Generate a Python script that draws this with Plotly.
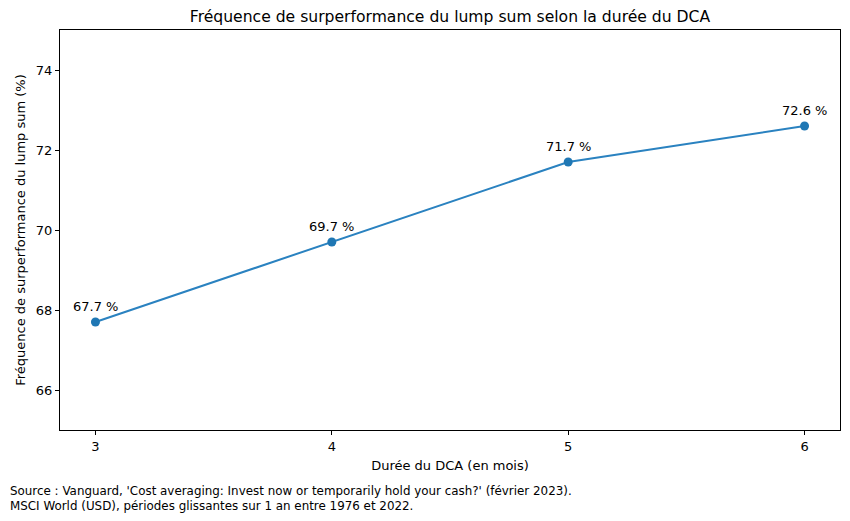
import plotly.graph_objects as go

durations = [3, 4, 5, 6]
frequencies = [67.7, 69.7, 71.7, 72.6]
labels = [f"{v} %" for v in frequencies]

title = "Fréquence de surperformance du lump sum selon la durée du DCA"
xlabel = "Durée du DCA (en mois)"
ylabel = "Fréquence de surperformance du lump sum (%)"
source = ("Source : Vanguard, 'Cost averaging: Invest now or temporarily hold your cash?' (février 2023).<br>"
          "MSCI World (USD), périodes glissantes sur 1 an entre 1976 et 2022.")

font = "DejaVu Sans"
blue = "#1f77b4"
line_blue = "#2a82c0"

fig = go.Figure()
fig.add_trace(go.Scatter(
    x=durations, y=frequencies, mode="lines+markers",
    line=dict(color=line_blue, width=2),
    marker=dict(color=blue, size=9),
    showlegend=False, hoverinfo="skip",
))
for xv, yv, lab in zip(durations, frequencies, labels):
    fig.add_annotation(x=xv, y=yv, text=lab, showarrow=False, yshift=16,
                       font=dict(family=font, size=13, color="black"))

fig.add_annotation(xref="paper", yref="paper", x=-52/780, y=-0.13,
                   xanchor="left", yanchor="top", align="left", showarrow=False,
                   text=source, font=dict(family=font, size=11.9, color="black"))

axis_common = dict(showline=True, linecolor="black", linewidth=1, mirror=True,
                   ticks="outside", ticklen=4, tickcolor="black", showgrid=False,
                   zeroline=False, tickfont=dict(family=font, size=13, color="black"))

fig.update_layout(
    width=850, height=521,
    margin=dict(l=60, r=10, t=30, b=91),
    paper_bgcolor="white", plot_bgcolor="white",
    font=dict(family=font, color="black"),
    title=dict(text=title, xref="paper", x=0.5, xanchor="center", y=1 - 17/521, yanchor="middle",
               font=dict(family=font, size=15.6, color="black")),
    xaxis=dict(range=[2.85, 6.15], tickvals=durations,
               title=dict(text=xlabel, font=dict(family=font, size=13), standoff=8),
               **axis_common),
    yaxis=dict(range=[65, 75], tickvals=[66, 68, 70, 72, 74],
               title=dict(text=ylabel, font=dict(family=font, size=13), standoff=7),
               **axis_common),
)

fig.write_html("out.html")
